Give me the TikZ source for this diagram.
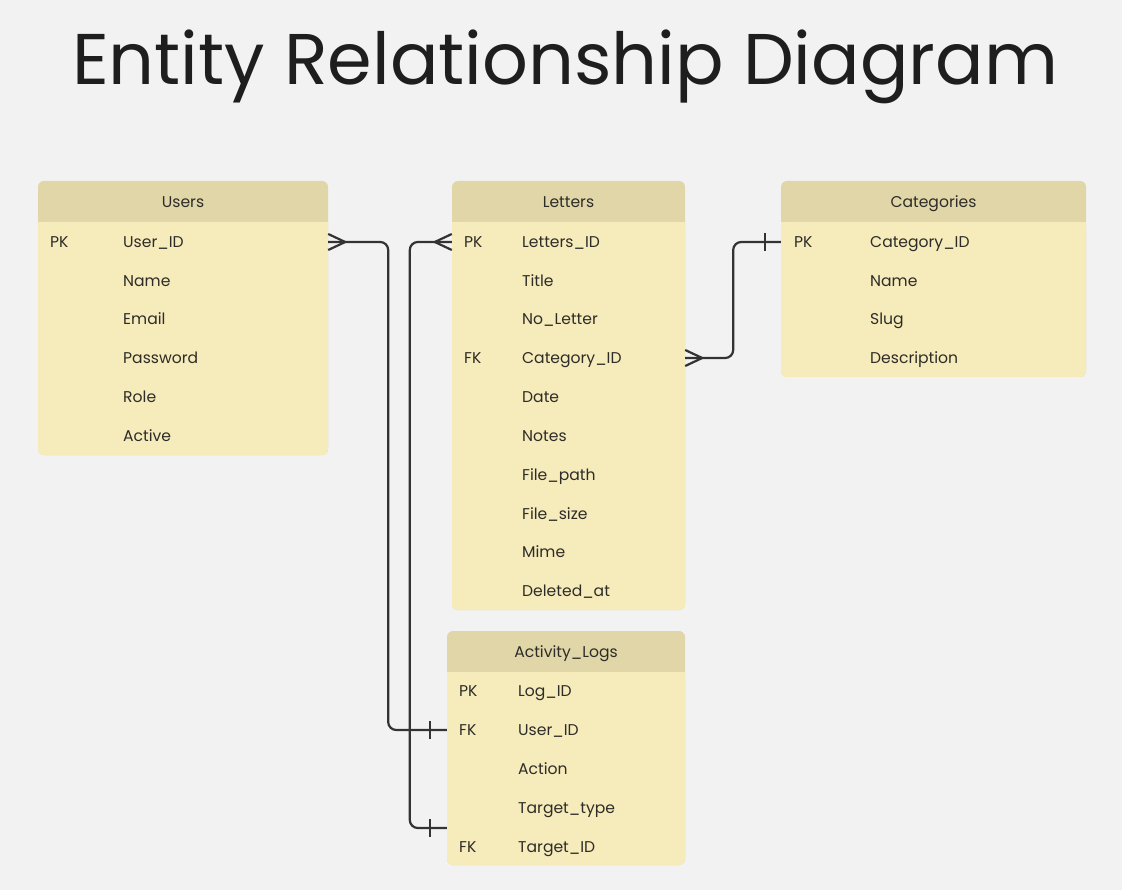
\documentclass[tikz,border=0pt]{standalone}
\usepackage{fontspec}
\setmainfont{Poppins}
\usetikzlibrary{calc}
\definecolor{bgc}{HTML}{F2F2F2}
\definecolor{hdrc}{HTML}{E0D6A8}
\definecolor{bodyc}{HTML}{F6EBBB}
\definecolor{txtc}{HTML}{2E2C28}
\definecolor{linec}{HTML}{333333}
\definecolor{titlec}{HTML}{1E1E1E}
\newcommand\ertable[6]{% name, xl, xr, ytop, ybot, title
  \fill[hdrc, rounded corners=6pt] (#2,#4) rectangle (#3,#5);
  \fill[bodyc, rounded corners=6pt] (#2,#4+41) rectangle (#3,#5);
  \fill[bodyc] (#2,#4+41) rectangle (#3,#4+60);
  \node[hdrtext] (#1) at ({(#2+#3)/2},#4+21+5.5) {#6};
}
\newcommand\errow[8]{% name, xl, xr, y, key, keyx, field, fieldx
  \node[rowbox, minimum width={#3-#2}] (#1) at ({(#2+#3)/2},#4) {};
  \node[celltext] (#1k) at (#6,#4+5.5) {#5};
  \node[celltext] (#1f) at (#8,#4+5.5) {#7};
}
\tikzset{
  x=1pt, y=-1pt,
  hdrtext/.style={anchor=base, inner sep=0pt, font=\fontsize{15.6}{19}\selectfont, text=txtc},
  celltext/.style={anchor=base west, inner sep=0pt, font=\fontsize{15.6}{19}\selectfont, text=txtc},
  rowbox/.style={draw=none, inner sep=0pt, minimum height=30pt},
  conn/.style={draw=linec, line width=2.2pt, rounded corners=8pt},
  tick/.style={draw=linec, line width=2.2pt},
}
\begin{document}
\begin{tikzpicture}
\fill[bgc] (0,0) rectangle (1122,890);
\useasboundingbox (0,0) rectangle (1122,890);
\node[anchor=base, inner sep=0pt, text=titlec, font=\fontsize{71.8}{80}\selectfont] (title) at (565,85) {Entity Relationship Diagram};

% Users
\ertable{users}{38}{328}{181}{455}{Users}
\errow{u1}{38}{328}{242}{PK}{50}{User\_ID}{123}
\errow{u2}{38}{328}{281}{}{50}{Name}{123}
\errow{u3}{38}{328}{319}{}{50}{Email}{123}
\errow{u4}{38}{328}{358}{}{50}{Password}{123}
\errow{u5}{38}{328}{397}{}{50}{Role}{123}
\errow{u6}{38}{328}{436}{}{50}{Active}{123}

% Letters
\ertable{letters}{452}{685}{181}{610}{Letters}
\errow{l1}{452}{685}{242}{PK}{464}{Letters\_ID}{522}
\errow{l2}{452}{685}{281}{}{464}{Title}{522}
\errow{l3}{452}{685}{319}{}{464}{No\_Letter}{522}
\errow{l4}{452}{685}{358}{FK}{464}{Category\_ID}{522}
\errow{l5}{452}{685}{397}{}{464}{Date}{522}
\errow{l6}{452}{685}{436}{}{464}{Notes}{522}
\errow{l7}{452}{685}{475}{}{464}{File\_path}{522}
\errow{l8}{452}{685}{514}{}{464}{File\_size}{522}
\errow{l9}{452}{685}{552}{}{464}{Mime}{522}
\errow{l10}{452}{685}{591}{}{464}{Deleted\_at}{522}

% Categories
\ertable{categories}{781}{1086}{181}{377}{Categories}
\errow{c1}{781}{1086}{242}{PK}{794}{Category\_ID}{870}
\errow{c2}{781}{1086}{281}{}{794}{Name}{870}
\errow{c3}{781}{1086}{319}{}{794}{Slug}{870}
\errow{c4}{781}{1086}{358}{}{794}{Description}{870}

% Activity_Logs
\ertable{logs}{447}{685}{631}{865}{Activity\_Logs}
\errow{a1}{447}{685}{691}{PK}{459}{Log\_ID}{518}
\errow{a2}{447}{685}{730}{FK}{459}{User\_ID}{518}
\errow{a3}{447}{685}{769}{}{459}{Action}{518}
\errow{a4}{447}{685}{808}{}{459}{Target\_type}{518}
\errow{a5}{447}{685}{847}{FK}{459}{Target\_ID}{518}
\coordinate (a45) at (a4.west |- 0,828);

% Users -> Activity_Logs
\draw[conn] (u1.east) -- ($(u1.east)+(60,0)$) |- (a2.west);
\draw[tick] ($(u1.east)+(0,-8)$) -- ($(u1.east)+(17,0)$) -- ($(u1.east)+(0,8)$);
\draw[tick] ($(a2.west)+(-17,-9)$) -- ($(a2.west)+(-17,9)$);

% Letters -> Activity_Logs
\draw[conn] (l1.west) -- ($(l1.west)+(-42,0)$) |- (a45);
\draw[tick] ($(l1.west)+(0,-8)$) -- ($(l1.west)+(-17,0)$) -- ($(l1.west)+(0,8)$);
\draw[tick] ($(a45)+(-17,-9)$) -- ($(a45)+(-17,9)$);

% Letters -> Categories
\draw[conn] (l4.east) -- ($(l4.east)+(48,0)$) |- (c1.west);
\draw[tick] ($(l4.east)+(0,-8)$) -- ($(l4.east)+(17,0)$) -- ($(l4.east)+(0,8)$);
\draw[tick] ($(c1.west)+(-16,-9)$) -- ($(c1.west)+(-16,9)$);
\end{tikzpicture}
\end{document}
